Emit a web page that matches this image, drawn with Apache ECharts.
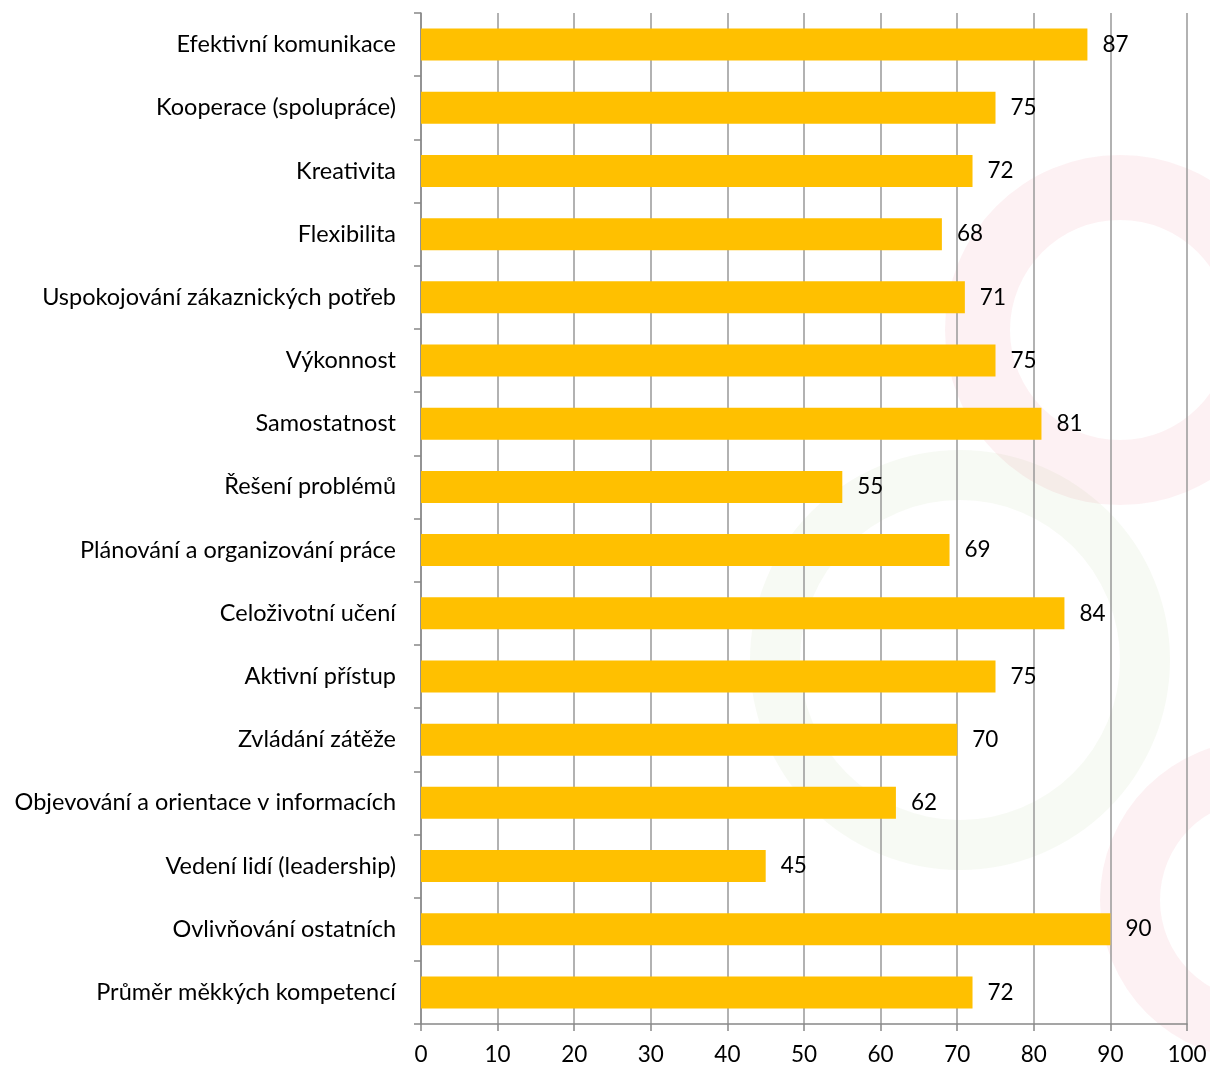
<!DOCTYPE html>
<html><head><meta charset="utf-8">
<script src="https://cdn.jsdelivr.net/npm/echarts@6/dist/echarts.min.js"></script>
<style>html,body{margin:0;padding:0;background:#fff}#c{width:1210px;height:1067px}</style>
</head><body><div id="c"></div>
<script>
const categories = ["Efektivní komunikace","Kooperace (spolupráce)","Kreativita","Flexibilita","Uspokojování zákaznických potřeb","Výkonnost","Samostatnost","Řešení problémů","Plánování a organizování práce","Celoživotní učení","Aktivní přístup","Zvládání zátěže","Objevování a orientace v informacích","Vedení lidí (leadership)","Ovlivňování ostatních","Průměr měkkých kompetencí"];
const values = [87,75,72,68,71,75,81,55,69,84,75,70,62,45,90,72];
const xTicks = [0,10,20,30,40,50,60,70,80,90,100];

const chart = echarts.init(document.getElementById('c'), null, {renderer:'canvas'});
const font = 'Lato, "Open Sans", sans-serif';
chart.setOption({
  animation:false,
  backgroundColor:'#fff',
  grid:{left:421,right:23,top:13,bottom:43,containLabel:false},
  graphic:[
    {type:'ring',shape:{cx:1120,cy:330,r:175,r0:110},style:{fill:'rgba(230,60,80,0.07)'},z:-10},
    {type:'ring',shape:{cx:960,cy:660,r:210,r0:160},style:{fill:'rgba(120,170,60,0.06)'},z:-10},
    {type:'ring',shape:{cx:1260,cy:900,r:160,r0:100},style:{fill:'rgba(230,60,80,0.07)'},z:-10}
  ],
  xAxis:{type:'value',min:xTicks[0],max:xTicks[xTicks.length-1],interval:10,
    axisLine:{show:true,lineStyle:{color:'#888',width:1.5}},
    axisTick:{show:true,length:7,lineStyle:{color:'#888',width:1.5}},
    axisLabel:{fontFamily:font,fontSize:22.5,color:'#000',margin:19,
      formatter:v=>xTicks.includes(v)?String(v):''},
    splitLine:{show:true,lineStyle:{color:'#999',width:1.5}}},
  yAxis:{type:'category',data:categories,inverse:true,
    axisLine:{show:true,lineStyle:{color:'#888',width:1.5}},
    axisTick:{show:true,length:7,lineStyle:{color:'#888',width:1.5}},
    axisLabel:{fontFamily:font,fontSize:23.5,color:'#000',margin:25},
    splitLine:{show:false}},
  series:[{type:'bar',data:values,barWidth:32,
    itemStyle:{color:'#FFC000'},
    label:{show:true,position:'right',distance:15,fontFamily:font,fontSize:22.5,color:'#000'}}]
});
</script></body></html>
